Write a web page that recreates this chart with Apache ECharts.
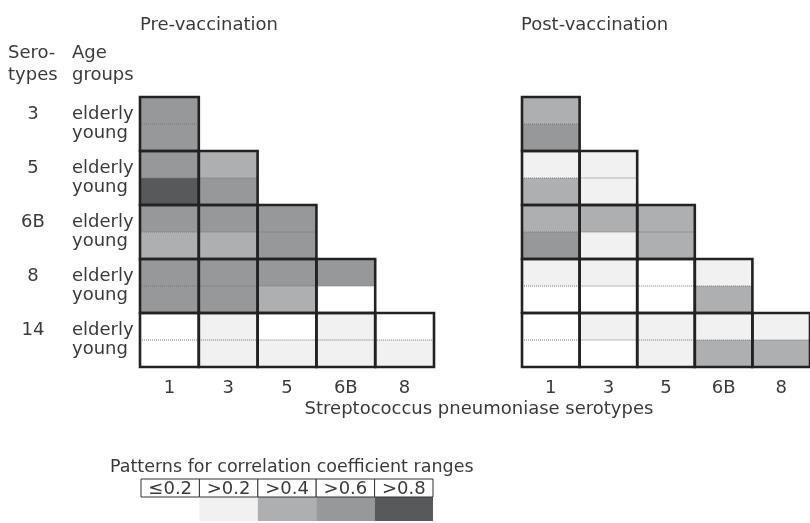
<!DOCTYPE html>
<html>
<head>
<meta charset="utf-8">
<script src="https://cdn.jsdelivr.net/npm/echarts@6/dist/echarts.min.js"></script>
<style>
  html, body { margin: 0; padding: 0; background: #fff; }
  #main { width: 810px; height: 523px; }
</style>
</head>
<body>
<div id="main"></div>
<script>
// serotype axes
const rowSerotypes = ['3', '5', '6B', '8', '14'];
const colSerotypes = ['1', '3', '5', '6B', '8'];
// correlation ranges, level 0..4
const rangeLabels = ['≤0.2', '>0.2', '>0.4', '>0.6', '>0.8'];
const levelColors = ['#ffffff', '#f1f1f1', '#aeafb1', '#97989a', '#58595b'];

// [column, row, elderly level, young level]
const preCells = [
  [0, 0, 3, 3],
  [0, 1, 3, 4], [1, 1, 2, 3],
  [0, 2, 3, 2], [1, 2, 3, 2], [2, 2, 3, 3],
  [0, 3, 3, 3], [1, 3, 3, 3], [2, 3, 3, 2], [3, 3, 3, 0],
  [0, 4, 0, 0], [1, 4, 1, 1], [2, 4, 0, 1], [3, 4, 1, 1], [4, 4, 0, 1]
];
const postCells = [
  [0, 0, 2, 3],
  [0, 1, 1, 2], [1, 1, 1, 1],
  [0, 2, 2, 3], [1, 2, 2, 1], [2, 2, 2, 2],
  [0, 3, 1, 0], [1, 3, 1, 0], [2, 3, 0, 0], [3, 3, 1, 2],
  [0, 4, 0, 0], [1, 4, 1, 0], [2, 4, 1, 1], [3, 4, 1, 2], [4, 4, 1, 2]
];

const FONT = '"DejaVu Sans", sans-serif';
const FS = 18;
const TXT = '#3a3a3a';

// halves of each block
function cellFill(params, api) {
  const c = api.coord([api.value(0), api.value(1)]);
  const s = api.size([1, 1]);
  const x0 = c[0] - s[0] / 2, y0 = c[1] - s[1] / 2;
  const hh = s[1] / 2;
  return {
    type: 'group',
    children: [
      { type: 'rect', shape: { x: x0, y: y0, width: s[0], height: hh },
        style: { fill: levelColors[api.value(2)] } },
      { type: 'rect', shape: { x: x0, y: y0 + hh, width: s[0], height: hh },
        style: { fill: levelColors[api.value(3)] } },
      { type: 'line', shape: { x1: x0, y1: y0 + hh, x2: x0 + s[0], y2: y0 + hh },
        style: { stroke: '#777', lineWidth: 1, lineDash: [1, 1] } }
    ]
  };
}
// thick outline of each block
function cellBorder(params, api) {
  const c = api.coord([api.value(0), api.value(1)]);
  const s = api.size([1, 1]);
  return {
    type: 'rect',
    shape: { x: c[0] - s[0] / 2, y: c[1] - s[1] / 2, width: s[0], height: s[1] },
    style: { fill: 'none', stroke: '#222', lineWidth: 2.6 }
  };
}
// legend table
function legendCell(params, api) {
  const i = api.value(0);
  const c = api.coord([i, 1]);
  const b = api.coord([i, 0]);
  const w = api.size([1, 0])[0];
  const x0 = c[0] - w / 2, top = c[1], mid = top + 18;
  return {
    type: 'group',
    children: [
      { type: 'rect', shape: { x: x0, y: mid, width: w, height: b[1] - mid },
        style: { fill: levelColors[api.value(1)] } },
      { type: 'rect', shape: { x: x0, y: top, width: w, height: 18 },
        style: { fill: '#fff', stroke: '#333', lineWidth: 1 } },
      { type: 'text', style: { text: rangeLabels[i], x: c[0], y: top + 10,
        align: 'center', verticalAlign: 'middle', fontSize: FS, fontFamily: FONT, fill: TXT } }
    ]
  };
}

const chart = echarts.init(document.getElementById('main'));

const xCat = (gi) => ({
  type: 'category', gridIndex: gi, data: colSerotypes,
  axisLine: { show: false }, axisTick: { show: false }, splitLine: { show: false },
  axisLabel: { margin: 12, fontSize: FS, color: TXT, fontFamily: FONT }
});

chart.setOption({
  animation: false,
  grid: [
    { left: 140, top: 97, width: 294, height: 270 },
    { left: 522, top: 97, width: 294, height: 270 },
    { left: 141, top: 479, width: 292, height: 42 }
  ],
  xAxis: [
    xCat(0),
    xCat(1),
    { type: 'category', gridIndex: 2, data: rangeLabels, show: false }
  ],
  yAxis: [
    { type: 'category', gridIndex: 0, data: rowSerotypes, inverse: true,
      axisLine: { show: false }, axisTick: { show: false },
      axisLabel: { formatter: () => 'elderly\nyoung', align: 'left', margin: 68,
        lineHeight: 19, fontSize: FS, color: TXT, fontFamily: FONT, padding: [13, 0, 0, 0] } },
    { type: 'category', gridIndex: 0, data: rowSerotypes, inverse: true, position: 'left',
      axisLine: { show: false }, axisTick: { show: false },
      axisLabel: { formatter: v => v + '\n ', align: 'center', margin: 107,
        lineHeight: 19, fontSize: FS, color: TXT, fontFamily: FONT, padding: [13, 0, 0, 0] } },
    { type: 'category', gridIndex: 1, data: rowSerotypes, inverse: true, show: false },
    { type: 'value', gridIndex: 2, min: 0, max: 1, show: false }
  ],
  series: [
    { type: 'custom', xAxisIndex: 0, yAxisIndex: 0, renderItem: cellFill, data: preCells, z: 2 },
    { type: 'custom', xAxisIndex: 0, yAxisIndex: 0, renderItem: cellBorder, data: preCells, z: 3 },
    { type: 'custom', xAxisIndex: 1, yAxisIndex: 2, renderItem: cellFill, data: postCells, z: 2 },
    { type: 'custom', xAxisIndex: 1, yAxisIndex: 2, renderItem: cellBorder, data: postCells, z: 3 },
    { type: 'custom', xAxisIndex: 2, yAxisIndex: 3, renderItem: legendCell,
      data: rangeLabels.map((l, i) => [i, i]), z: 2 }
  ],
  graphic: [
    { type: 'text', x: 140, y: 25, style: { text: 'Pre-vaccination', verticalAlign: 'middle',
      fontSize: FS, fontFamily: FONT, fill: TXT } },
    { type: 'text', x: 521, y: 25, style: { text: 'Post-vaccination', verticalAlign: 'middle',
      fontSize: FS, fontFamily: FONT, fill: TXT } },
    { type: 'text', x: 8, y: 64, style: { text: 'Sero-\ntypes', verticalAlign: 'middle',
      fontSize: FS, lineHeight: 22, fontFamily: FONT, fill: TXT } },
    { type: 'text', x: 72, y: 64, style: { text: 'Age\ngroups', verticalAlign: 'middle',
      fontSize: FS, lineHeight: 22, fontFamily: FONT, fill: TXT } },
    { type: 'text', x: 479, y: 409, style: { text: 'Streptococcus pneumoniase serotypes', align: 'center',
      verticalAlign: 'middle', fontSize: FS, fontFamily: FONT, fill: TXT } },
    { type: 'text', x: 110, y: 467, style: { text: 'Patterns for correlation coefficient ranges',
      verticalAlign: 'middle', fontSize: 17.5, fontFamily: FONT, fill: TXT } }
  ]
});
</script>
</body>
</html>
